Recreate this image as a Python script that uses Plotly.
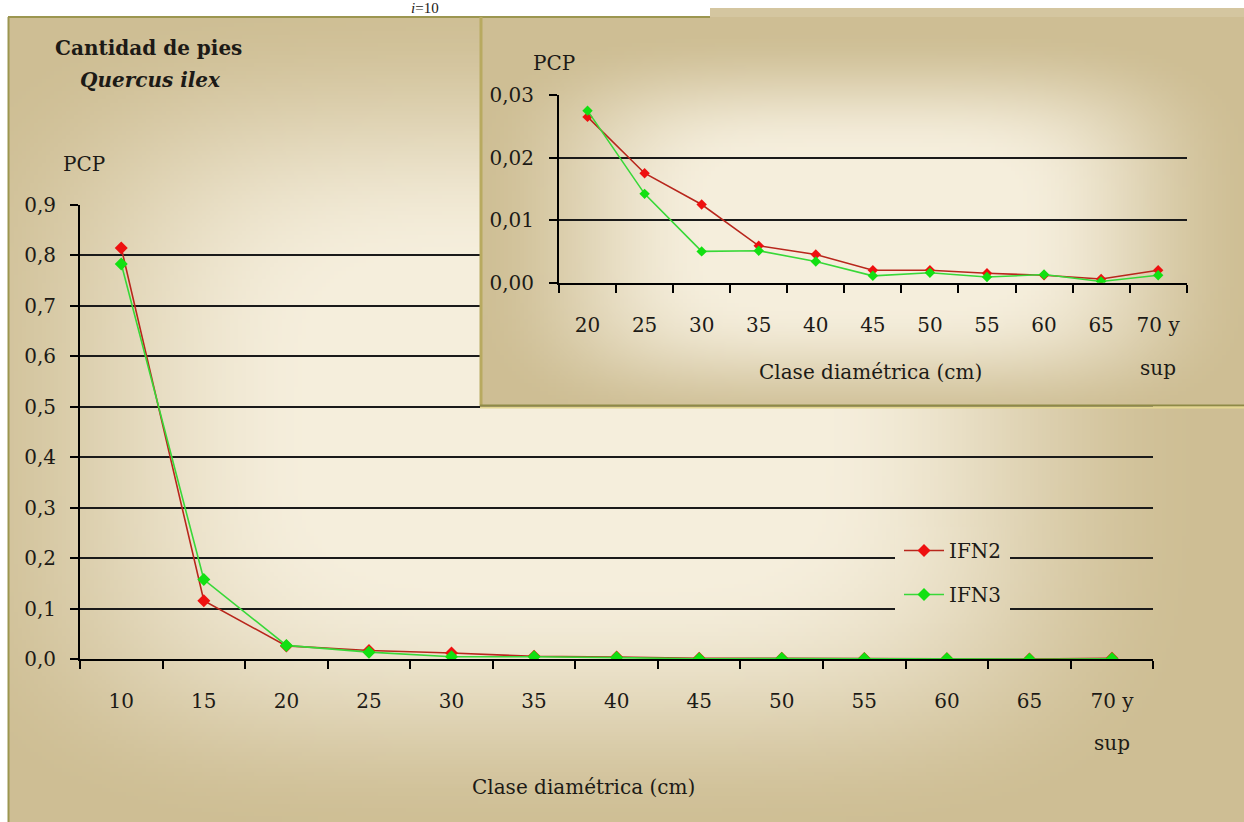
import base64, struct, zlib
import numpy as np
import plotly.graph_objects as go

# ---------------- data ----------------
categories = ["10", "15", "20", "25", "30", "35", "40", "45", "50", "55", "60", "65", "70 y"]
ifn2 = [0.815, 0.116, 0.0265, 0.0175, 0.0125, 0.0059, 0.0045, 0.0020, 0.0020, 0.0015, 0.0012, 0.0006, 0.0020]
ifn3 = [0.783, 0.158, 0.0275, 0.0142, 0.0050, 0.0051, 0.0034, 0.0011, 0.0016, 0.0009, 0.0013, 0.0002, 0.0012]
inset_categories = categories[2:]
inset_ifn2 = ifn2[2:]
inset_ifn3 = ifn3[2:]
series_names = ["IFN2", "IFN3"]
main_yticks = [0.0, 0.1, 0.2, 0.3, 0.4, 0.5, 0.6, 0.7, 0.8, 0.9]
inset_yticks = [0.0, 0.01, 0.02, 0.03]

# ---------------- geometry helpers ----------------
W, H = 1244, 822
def px(x):
    return x / W
def py(y):
    return 1 - y / H

MAIN_X = (80, 1153.3)
MAIN_Y = (659.3, 205)      # pixel rows of y=0 and y=0.9
INS_X = (559, 1186.7)
INS_Y = (282.7, 95)        # pixel rows of y=0 and y=0.03

C_CENTER = np.array([245, 238, 220], float)
C_EDGE = np.array([206, 190, 148], float)

MAIN_PANEL = (8, 17, 1244, 822)
INS_PANEL = (482, 17, 1244, 405)
LEGEND_PATCH = (895, 527, 1010, 623)
main_grad = dict(cx=0.45, cy=0.5, inner=0.40, outer=1.05)
ins_grad = dict(cx=0.5, cy=0.55, inner=0.40, outer=1.05)

def shade(nx, ny, g):
    dx = (nx - g["cx"]) / 0.5
    dy = (ny - g["cy"]) / 0.5
    d = (np.abs(dx) ** 4 + np.abs(dy) ** 4) ** 0.25
    t = np.clip((d - g["inner"]) / (g["outer"] - g["inner"]), 0, 1)
    return t * t * (3 - 2 * t)

def gradient_uri(panel, g, rect, w, h):
    xs = np.linspace(rect[0], rect[2], w)[None, :]
    ys = np.linspace(rect[1], rect[3], h)[:, None]
    nx = (xs - panel[0]) / (panel[2] - panel[0])
    ny = (ys - panel[1]) / (panel[3] - panel[1])
    t = shade(nx, ny, g)[..., None]
    img = np.round(C_CENTER * (1 - t) + C_EDGE * t).astype(np.uint8)
    raw = b"".join(b"\x00" + img[r].tobytes() for r in range(h))
    def chunk(tag, data):
        c = struct.pack(">I", len(data)) + tag + data
        return c + struct.pack(">I", zlib.crc32(tag + data) & 0xFFFFFFFF)
    png = (b"\x89PNG\r\n\x1a\n" + chunk(b"IHDR", struct.pack(">IIBBBBB", w, h, 8, 2, 0, 0, 0))
           + chunk(b"IDAT", zlib.compress(raw, 9)) + chunk(b"IEND", b""))
    return "data:image/png;base64," + base64.b64encode(png).decode()

# ---------------- figure ----------------
FONT = "DejaVu Serif"
TXT = "#1c1a16"
red_line, red_mark = "#b8261c", "#ee1010"
green_line, green_mark = "#38d838", "#12e012"

fig = go.Figure()
fig.add_trace(go.Scatter(x=categories, y=ifn2, name=series_names[0], mode="lines+markers",
                         line=dict(color=red_line, width=1.6), legendgroup="a",
                         marker=dict(symbol="diamond", size=10, color=red_mark),
                         xaxis="x", yaxis="y"))
fig.add_trace(go.Scatter(x=categories, y=ifn3, name=series_names[1], mode="lines+markers",
                         line=dict(color=green_line, width=1.6), legendgroup="b",
                         marker=dict(symbol="diamond", size=10, color=green_mark),
                         xaxis="x", yaxis="y"))
fig.add_trace(go.Scatter(x=inset_categories, y=inset_ifn2, name=series_names[0], mode="lines+markers",
                         line=dict(color=red_line, width=1.6), showlegend=False,
                         marker=dict(symbol="diamond", size=8, color=red_mark),
                         xaxis="x2", yaxis="y2"))
fig.add_trace(go.Scatter(x=inset_categories, y=inset_ifn3, name=series_names[1], mode="lines+markers",
                         line=dict(color=green_line, width=1.6), showlegend=False,
                         marker=dict(symbol="diamond", size=8, color=green_mark),
                         xaxis="x2", yaxis="y2"))

tickfont = dict(family=FONT, size=20, color=TXT)
xcommon = dict(type="category", tickson="boundaries", ticks="outside", ticklen=8, tickwidth=2,
               tickcolor="black", showline=True, linecolor="black", linewidth=2,
               showgrid=False, zeroline=False, tickfont=tickfont, ticklabelstandoff=23,
               fixedrange=True, automargin=False)
ycommon = dict(ticks="outside", ticklen=8, tickwidth=2, tickcolor="black", showline=True,
               linecolor="black", linewidth=2, showgrid=True, gridcolor="#1a1a1a", gridwidth=2,
               zeroline=False, tickfont=tickfont, ticklabelstandoff=10, fixedrange=True,
               automargin=False)

fig.update_layout(
    width=W, height=H, margin=dict(l=0, r=0, t=0, b=0, pad=0, autoexpand=False),
    paper_bgcolor="white", plot_bgcolor="rgba(0,0,0,0)",
    separators=",.",
    showlegend=True,
    xaxis=dict(xcommon, domain=[px(MAIN_X[0]), px(MAIN_X[1])], anchor="y",
               categoryorder="array", categoryarray=categories, range=[-0.5, len(categories) - 0.5]),
    yaxis=dict(ycommon, domain=[py(MAIN_Y[0]), py(MAIN_Y[1])], anchor="x",
               range=[0, 0.9], tickvals=main_yticks, tickformat=".1f"),
    xaxis2=dict(xcommon, domain=[px(INS_X[0]), px(INS_X[1])], anchor="y2",
                categoryorder="array", categoryarray=inset_categories,
                range=[-0.5, len(inset_categories) - 0.5]),
    yaxis2=dict(ycommon, domain=[py(INS_Y[0]), py(INS_Y[1])], anchor="x2",
                range=[0, 0.03], tickvals=inset_yticks, tickformat=".2f", ticklabelstandoff=11),
    legend=dict(x=px(899), y=py(531), xanchor="left", yanchor="top",
                bgcolor="rgba(0,0,0,0)", itemwidth=40,
                font=dict(family=FONT, size=20, color=TXT),
                traceorder="grouped", tracegroupgap=15, borderwidth=0),
)

# background panels (gradient images)
ins_dx = INS_X[1] - INS_X[0]
ins_dy = INS_Y[0] - INS_Y[1]
fig.add_layout_image(source=gradient_uri(MAIN_PANEL, main_grad, MAIN_PANEL, 309, 201),
                     xref="paper", yref="paper",
                     x=px(MAIN_PANEL[0]), y=py(MAIN_PANEL[1]),
                     sizex=(MAIN_PANEL[2] - MAIN_PANEL[0]) / W, sizey=(MAIN_PANEL[3] - MAIN_PANEL[1]) / H,
                     xanchor="left", yanchor="top", sizing="stretch", layer="below")
fig.add_layout_image(source=gradient_uri(INS_PANEL, ins_grad, INS_PANEL, 191, 97),
                     xref="x2 domain", yref="y2 domain",
                     x=(INS_PANEL[0] - INS_X[0]) / ins_dx, y=(INS_Y[0] - INS_PANEL[1]) / ins_dy,
                     sizex=(INS_PANEL[2] - INS_PANEL[0]) / ins_dx, sizey=(INS_PANEL[3] - INS_PANEL[1]) / ins_dy,
                     xanchor="left", yanchor="top", sizing="stretch", layer="below")
# background patch under the legend (interrupts the gridlines like the original)
fig.add_layout_image(source=gradient_uri(MAIN_PANEL, main_grad, LEGEND_PATCH, 58, 48),
                     xref="paper", yref="paper",
                     x=px(LEGEND_PATCH[0]), y=py(LEGEND_PATCH[1]),
                     sizex=(LEGEND_PATCH[2] - LEGEND_PATCH[0]) / W, sizey=(LEGEND_PATCH[3] - LEGEND_PATCH[1]) / H,
                     xanchor="left", yanchor="top", sizing="stretch", layer="above")

# panel borders and top strip
fig.add_shape(type="rect", xref="paper", yref="paper", x0=px(710), x1=1, y0=py(17), y1=py(8),
              fillcolor="rgb(212,198,160)", line=dict(width=0), layer="below")
olive = "#9c9650"
fig.add_shape(type="line", xref="paper", yref="paper", x0=px(8.5), x1=px(8.5), y0=0, y1=py(17),
              line=dict(color=olive, width=2), layer="above")
fig.add_shape(type="line", xref="paper", yref="paper", x0=px(8), x1=px(710), y0=py(17), y1=py(17),
              line=dict(color=olive, width=2), layer="above")
fig.add_shape(type="line", xref="paper", yref="paper", x0=px(481), x1=px(481), y0=py(406), y1=py(17),
              line=dict(color="#b8aa60", width=3), layer="above")
fig.add_shape(type="line", xref="paper", yref="paper", x0=px(480), x1=1, y0=py(405.5), y1=py(405.5),
              line=dict(color="#8e8a46", width=2), layer="above")
fig.add_shape(type="line", xref="paper", yref="paper", x0=px(480), x1=1, y0=py(407.5), y1=py(407.5),
              line=dict(color="#e4d690", width=2), layer="above")

def note(text, x, y, size=20, xref="paper", yref="paper", xanchor="center", family=FONT):
    fig.add_annotation(text=text, x=x, y=y, xref=xref, yref=yref, showarrow=False,
                       xanchor=xanchor, yanchor="middle",
                       font=dict(family=family, size=size, color=TXT))

note("<b>Cantidad de pies</b>", px(53), py(48), xanchor="left")
note("<b><i>Quercus ilex</i></b>", px(78), py(80), xanchor="left")
note("PCP", px(84), py(164))
note("PCP", px(554), py(63))
note("Clase diamétrica (cm)", px(583), py(787))
note("Clase diamétrica (cm)", px(870), py(372))
note("sup", categories[-1], py(742.7), xref="x")
note("sup", inset_categories[-1], py(368), xref="x2")
note("<i>i</i>=10", px(425), py(8), size=15, family="Liberation Serif")

pin_to_corner = (
    "var gd=document.getElementById('{plot_id}');"
    "var wrap=gd.parentNode;"
    "document.body.insertBefore(gd, document.body.firstChild);"
    "if(wrap && wrap!==document.body){wrap.style.display='none';}"
    "var s='margin:0;padding:0;overflow:hidden;width:1244px;height:822px;';"
    "document.documentElement.style.cssText=s;document.body.style.cssText=s;"
    "gd.style.position='absolute';gd.style.left='0px';gd.style.top='0px';"
    "window.scrollTo(0,0);"
)
fig.write_html("out.html", post_script=pin_to_corner, config={"displayModeBar": False})
